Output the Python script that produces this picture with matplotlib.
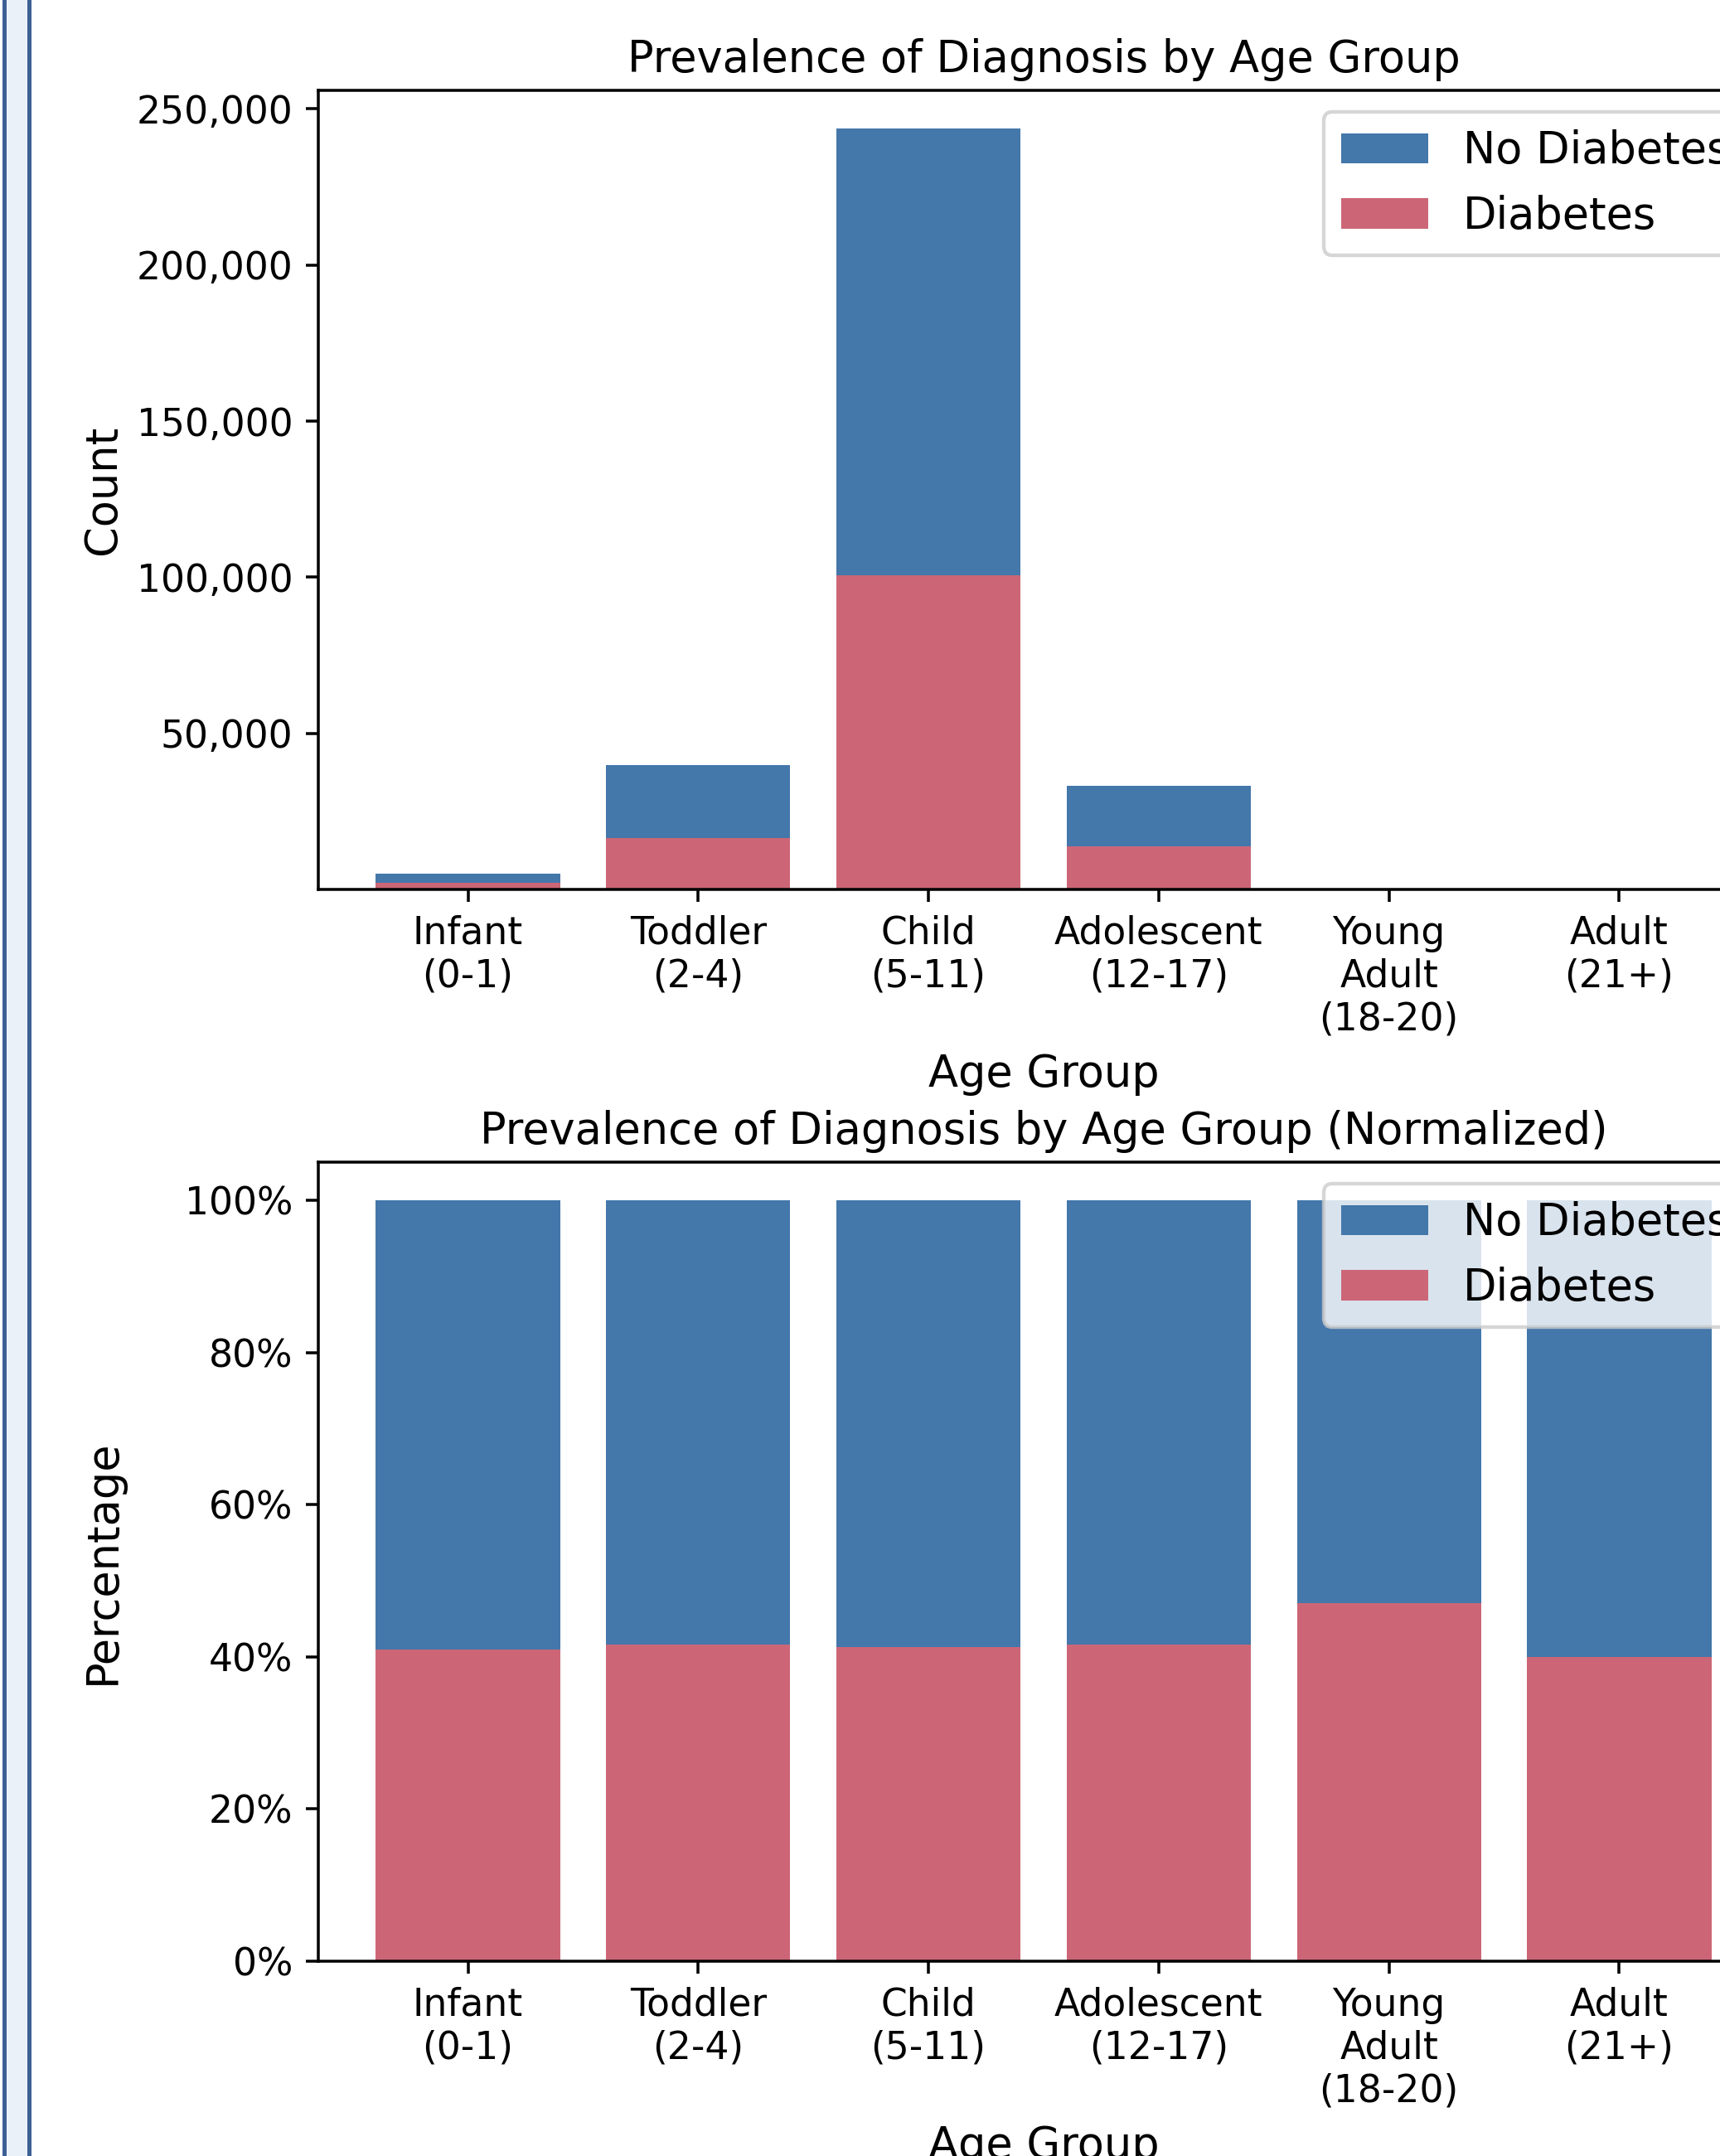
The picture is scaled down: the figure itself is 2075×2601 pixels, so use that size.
import numpy as np
import matplotlib
matplotlib.use('Agg')
import matplotlib.pyplot as plt
from matplotlib.ticker import FuncFormatter, PercentFormatter
from matplotlib.patches import Rectangle

# данные
age_groups = ['Infant\n(0-1)', 'Toddler\n(2-4)', 'Child\n(5-11)', 'Adolescent\n(12-17)',
              'Young\nAdult\n(18-20)', 'Adult\n(21+)']
total_counts = [4920, 39800, 243750, 33100, 17, 5]
diabetes_counts = [2017, 16560, 100550, 13770, 8, 2]

color_no = '#4477AA'
color_yes = '#CC6677'

total = np.array(total_counts, dtype=float)
diab = np.array(diabetes_counts, dtype=float)
no_diab = total - diab
x = np.arange(len(age_groups))

W, H, DPI = 2075, 2601, 316
fig = plt.figure(figsize=(W / DPI, H / DPI), dpi=DPI)

# рамка слева
fig.patches.append(Rectangle((4 / W, 0), 32 / W, 1, transform=fig.transFigure,
                             facecolor='#EAF1F9', edgecolor='none', zorder=0))
for xp in (5.5, 35.5):
    fig.patches.append(Rectangle((xp / W - 2.5 / W, 0), 5 / W, 1, transform=fig.transFigure,
                                 facecolor='#3D6094', edgecolor='none', zorder=1))

ax1 = fig.add_axes([384 / W, 1 - 1073 / H, 1750 / W, (1073 - 109) / H])
ax2 = fig.add_axes([384 / W, 1 - 2366 / H, 1750 / W, (2366 - 1402) / H])

# абсолютные значения
ax1.bar(x, diab, width=0.8, color=color_yes, label='Diabetes')
ax1.bar(x, no_diab, width=0.8, bottom=diab, color=color_no, label='No Diabetes')
ax1.set_yticks([50000, 100000, 150000, 200000, 250000])
ax1.yaxis.set_major_formatter(FuncFormatter(lambda v, p: f'{int(v):,}'))
ax1.set_ylim(0, total.max() * 1.05)
ax1.set_title('Prevalence of Diagnosis by Age Group', fontsize=12, pad=5)
ax1.set_ylabel('Count', fontsize=12)

# нормированные значения
ax2.bar(x, diab / total, width=0.8, color=color_yes, label='Diabetes')
ax2.bar(x, no_diab / total, width=0.8, bottom=diab / total, color=color_no, label='No Diabetes')
ax2.yaxis.set_major_formatter(PercentFormatter(1.0, decimals=0))
ax2.set_ylim(0, 1.05)
ax2.set_title('Prevalence of Diagnosis by Age Group (Normalized)', fontsize=12, pad=5)
ax2.set_ylabel('Percentage', fontsize=12)

for ax in (ax1, ax2):
    ax.set_xticks(x)
    ax.set_xticklabels(age_groups)
    ax.set_xlim(-0.65, 5.65)
    ax.tick_params(labelsize=10.4)
    ax.set_xlabel('Age Group', fontsize=12)
    ax.yaxis.set_label_coords(-0.134, 0.5)
    h, l = ax.get_legend_handles_labels()
    ax.legend(h[::-1], l[::-1], loc='upper right', fontsize=12)

fig.savefig('out.png', dpi=DPI)
plt.close()
